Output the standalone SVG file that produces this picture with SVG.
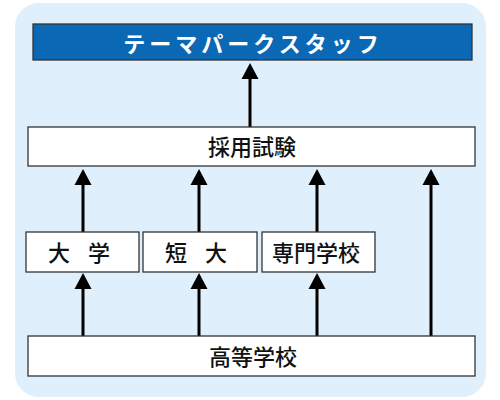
<svg xmlns="http://www.w3.org/2000/svg" width="500" height="400" viewBox="0 0 500 400">
<defs>
<style>
.box{fill:#ffffff;stroke:#333333;stroke-width:1.3}
.title{fill:#0a68b4;stroke:#333333;stroke-width:1.3}
.lbl{font-family:"Noto Sans CJK JP","Noto Sans",sans-serif;font-size:22px;font-weight:500;fill:#111111;text-anchor:middle;dominant-baseline:central}
.tlbl{font-family:"Noto Sans CJK JP","Noto Sans",sans-serif;font-size:22px;font-weight:bold;fill:#ffffff;text-anchor:middle;dominant-baseline:central;letter-spacing:4px}
.conn{stroke:#000000;stroke-width:3;fill:none}
</style>
</defs>
<rect x="15" y="3" width="471" height="394" rx="24" ry="24" fill="#dff0fc"/>
<g id="connectors">
<line class="conn" x1="250" y1="127" x2="250" y2="79"/><path d="M241.5,79 L250,63 L258.5,79 Z"/>
<line class="conn" x1="83" y1="232" x2="83" y2="185"/><path d="M74.5,185 L83,169 L91.5,185 Z"/>
<line class="conn" x1="199" y1="232" x2="199" y2="185"/><path d="M190.5,185 L199,169 L207.5,185 Z"/>
<line class="conn" x1="317" y1="232" x2="317" y2="185"/><path d="M308.5,185 L317,169 L325.5,185 Z"/>
<line class="conn" x1="431" y1="336" x2="431" y2="185"/><path d="M422.5,185 L431,169 L439.5,185 Z"/>
<line class="conn" x1="83" y1="336" x2="83" y2="289"/><path d="M74.5,289 L83,273 L91.5,289 Z"/>
<line class="conn" x1="199" y1="336" x2="199" y2="289"/><path d="M190.5,289 L199,273 L207.5,289 Z"/>
<line class="conn" x1="317" y1="336" x2="317" y2="289"/><path d="M308.5,289 L317,273 L325.5,289 Z"/>
</g>
<g id="n-staff">
<rect class="title" x="33" y="24" width="439" height="36"/>
<text class="tlbl" x="253" y="42">テーマパークスタッフ</text>
</g>
<g id="n-exam">
<rect class="box" x="28" y="127" width="447" height="39"/>
<text class="lbl" x="252" y="145">採用試験</text>
</g>
<g id="n-univ">
<rect class="box" x="26" y="232" width="113" height="40"/>
<text class="lbl" x="59 79 99" y="251" xml:space="preserve">大 学</text>
</g>
<g id="n-junior">
<rect class="box" x="143" y="232" width="114" height="40"/>
<text class="lbl" x="176 196 216" y="251" xml:space="preserve">短 大</text>
</g>
<g id="n-voc">
<rect class="box" x="262" y="232" width="113" height="40"/>
<text class="lbl" x="316" y="251">専門学校</text>
</g>
<g id="n-high">
<rect class="box" x="28" y="336" width="447" height="40"/>
<text class="lbl" x="253" y="355">高等学校</text>
</g>
</svg>
